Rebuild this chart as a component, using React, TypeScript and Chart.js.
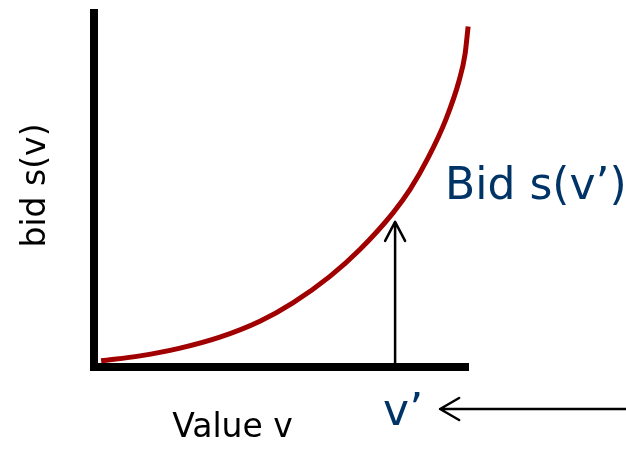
import React, { useEffect, useRef } from "react";
import { Chart, registerables } from "chart.js";

Chart.register(...registerables);

// Curve: bid s(v) as a function of value v (data units 0..100)
const valueV: number[] = [1.9, 12.3, 23, 33.6, 44.3, 53.1, 63, 71, 79.8, 84.4, 89.2, 94, 97.5, 99.1, 99.9];
const bidS: number[] = [1.6, 3, 5.2, 8.3, 12.8, 18, 25.5, 33.1, 43.4, 50.1, 59, 70, 80.9, 88.5, 96.2];

// The highlighted value v' and the top of its arrow
const vPrime = 80.4;
const arrowTop = 40.9;

// Texts
const xLabel = "Value v";
const yLabel = "bid s(v)";
const bidLabel = "Bid s(v\u2019)";
const vPrimeLabel = "v\u2019";

const CURVE = "#a00000";
const NAVY = "#003366";
const FONT = "'DejaVu Sans', sans-serif";

const annotations = {
  id: "annotations",
  afterDraw(chart: any) {
    const { ctx, scales } = chart;
    const x = scales.x;
    const y = scales.y;
    const vx = x.getPixelForValue(vPrime);
    const yBase = y.getPixelForValue(0);
    const yTip = y.getPixelForValue(arrowTop);
    ctx.save();
    ctx.strokeStyle = "#000";
    ctx.lineWidth = 2.5;
    ctx.lineCap = "round";
    ctx.lineJoin = "round";
    // vertical arrow
    ctx.beginPath();
    ctx.moveTo(vx, yBase - 3);
    ctx.lineTo(vx, yTip);
    ctx.moveTo(vx - 10, yTip + 19);
    ctx.lineTo(vx, yTip);
    ctx.lineTo(vx + 10, yTip + 19);
    ctx.stroke();
    // horizontal arrow pointing at v'
    const hy = yBase + 42.5;
    const hTip = vx + 45;
    ctx.beginPath();
    ctx.moveTo(chart.width + 2, hy);
    ctx.lineTo(hTip, hy);
    ctx.moveTo(hTip + 19, hy - 11);
    ctx.lineTo(hTip, hy);
    ctx.lineTo(hTip + 19, hy + 11);
    ctx.stroke();

    // texts
    ctx.textBaseline = "alphabetic";
    ctx.fillStyle = NAVY;
    ctx.font = `44px ${FONT}`;
    ctx.textAlign = "left";
    ctx.fillText(bidLabel, vx + 50, 199);
    ctx.fillText(vPrimeLabel, vx - 12, 425);

    ctx.fillStyle = "#000";
    ctx.font = `33px ${FONT}`;
    ctx.textAlign = "center";
    ctx.fillText(xLabel, 232.5, 437);

    ctx.save();
    ctx.translate(45, 185.5);
    ctx.rotate(-Math.PI / 2);
    ctx.font = `33px ${FONT}`;
    ctx.textAlign = "center";
    ctx.fillText(yLabel, 0, 0);
    ctx.restore();

    ctx.restore();
  },
};

export default function App() {
  const ref = useRef<HTMLCanvasElement | null>(null);
  useEffect(() => {
    if (!ref.current) return;
    const chart = new Chart(ref.current, {
      type: "line",
      data: {
        datasets: [
          {
            data: valueV.map((v, i) => ({ x: v, y: bidS[i] })),
            borderColor: CURVE,
            borderWidth: 5,
            pointRadius: 0,
            fill: false,
            cubicInterpolationMode: "monotone",
            borderCapStyle: "butt",
            clip: false as any,
          },
        ],
      },
      options: {
        animation: false,
        responsive: false,
        devicePixelRatio: 1,
        layout: { padding: { left: 94, right: 157.5, top: 13, bottom: 83.5 } },
        plugins: { legend: { display: false }, tooltip: { enabled: false } },
        scales: {
          x: {
            type: "linear",
            min: 0,
            max: 100,
            grid: { display: false, drawTicks: false },
            ticks: { display: false },
            border: { display: true, width: 8, color: "#000" },
            afterFit: (s: any) => { s.height = 0; },
          },
          y: {
            type: "linear",
            min: 0,
            max: 100,
            grid: { display: false, drawTicks: false },
            ticks: { display: false },
            border: { display: true, width: 8, color: "#000" },
            afterFit: (s: any) => { s.width = 0; },
          },
        },
      },
      plugins: [annotations],
    });
    return () => chart.destroy();
  }, []);
  return (
    <div style={{ position: "absolute", left: 0, top: 0, width: 626, height: 450, background: "#fff" }}>
      <canvas ref={ref} width={626} height={450} style={{ width: 626, height: 450, display: "block" }} />
    </div>
  );
}
